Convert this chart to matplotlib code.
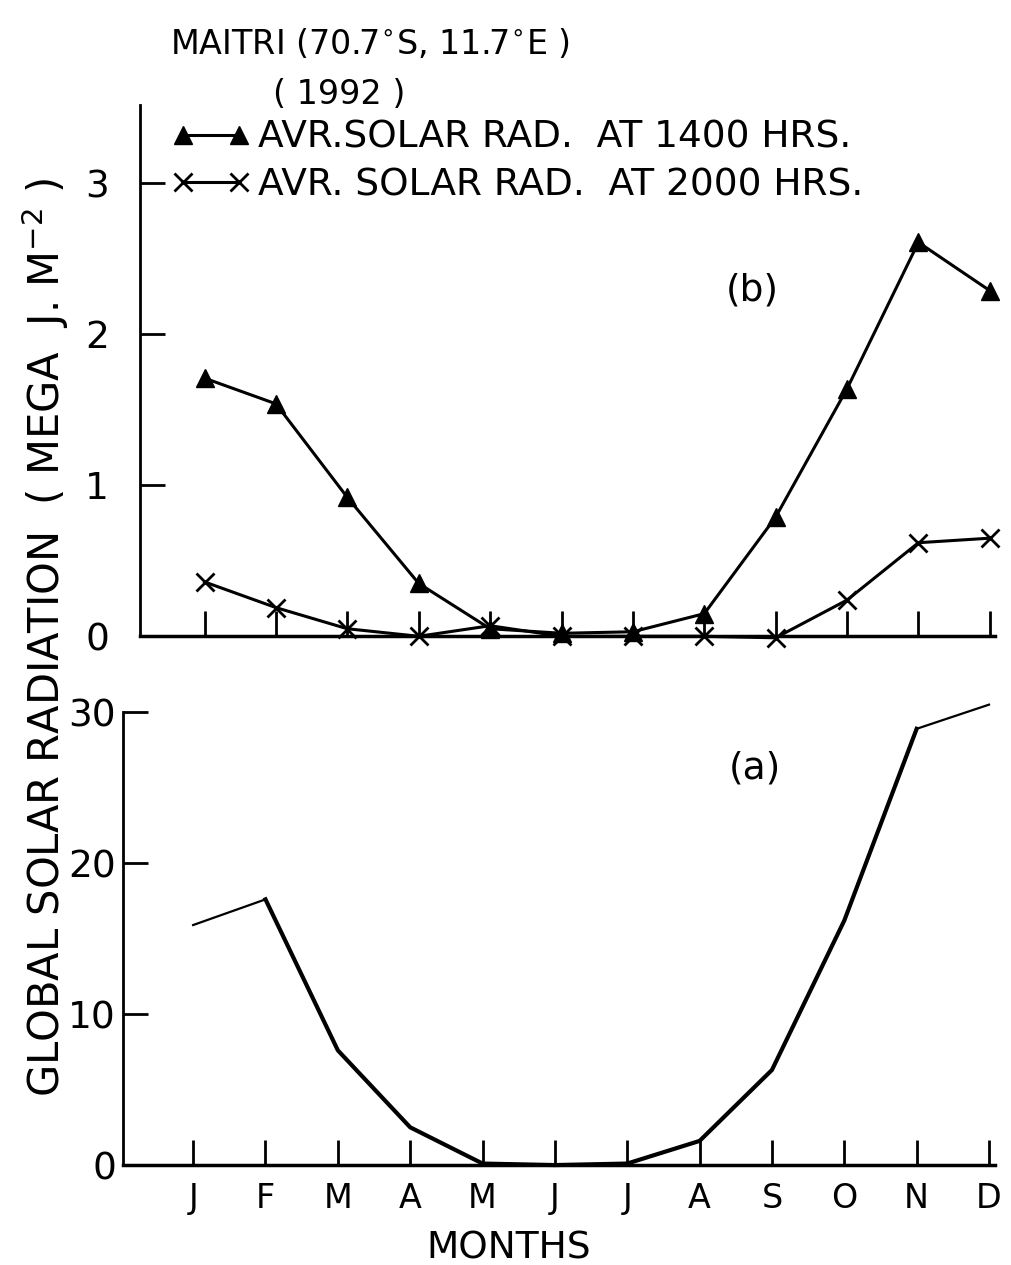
import numpy as np
import matplotlib.pyplot as plt

# mesi e valori
mesi = ['J', 'F', 'M', 'A', 'M', 'J', 'J', 'A', 'S', 'O', 'N', 'D']
rad_1400 = [1.71, 1.54, 0.92, 0.35, 0.05, 0.02, 0.03, 0.15, 0.79, 1.64, 2.61, 2.29]
rad_2000 = [0.36, 0.19, 0.05, 0.0, 0.07, 0.0, 0.0, 0.0, -0.01, 0.24, 0.62, 0.65]
globale = [15.9, 17.6, 7.6, 2.5, 0.1, 0.0, 0.1, 1.6, 6.3, 16.2, 28.9, 30.5]

x = np.arange(1, 13)
plt.rcParams['font.family'] = 'DejaVu Sans'

fig = plt.figure(figsize=(10.12, 12.65), dpi=100)

# pannello (b) in alto
ax_b = fig.add_axes([0.138, 0.497, 0.845, 0.42])
ax_b.plot(x, rad_1400, color='k', lw=2.2, marker='^', ms=13, mfc='k',
          clip_on=False, label='AVR.SOLAR RAD.  AT 1400 HRS.')
ax_b.plot(x, rad_2000, color='k', lw=2.2, marker='x', ms=13, mew=2,
          clip_on=False, label='AVR. SOLAR RAD.  AT 2000 HRS.')
ax_b.set_xlim(0.09, 12.07)
ax_b.set_ylim(0, 3.52)
ax_b.set_xticks(x)
ax_b.set_xticklabels([])
ax_b.set_yticks([0, 1, 2, 3])
ax_b.tick_params(axis='y', direction='in', length=18, width=2, labelsize=27, pad=22)
ax_b.tick_params(axis='x', direction='in', length=18, width=2)
ax_b.text(0.685, 0.65, '(b)', transform=ax_b.transAxes, fontsize=27, va='center')

leg = ax_b.legend(loc='upper left', bbox_to_anchor=(172 / 1012, 1 - 120 / 1265),
                  bbox_transform=fig.transFigure, frameon=False,
                  numpoints=2, handlelength=2.1, handletextpad=0.2,
                  fontsize=27, labelspacing=0.3, borderaxespad=0, borderpad=0)

# pannello (a) in basso
ax_a = fig.add_axes([0.1215, 0.079, 0.8615, 0.358])
ax_a.plot(x[:2], globale[:2], color='k', lw=1.6, clip_on=False)
ax_a.plot(x[1:11], globale[1:11], color='k', lw=3, clip_on=False,
          solid_joinstyle='round')
ax_a.plot(x[10:], globale[10:], color='k', lw=1.6, clip_on=False)
ax_a.set_xlim(0.03, 12.08)
ax_a.set_ylim(0, 30)
ax_a.set_xticks(x)
ax_a.set_xticklabels(mesi)
ax_a.set_yticks([0, 10, 20, 30])
ax_a.tick_params(axis='y', direction='in', length=18, width=2, labelsize=27, pad=5)
ax_a.tick_params(axis='x', direction='in', length=18, width=2, labelsize=24, pad=12)
ax_a.text(0.695, 0.876, '(a)', transform=ax_a.transAxes, fontsize=27, va='center')
ax_a.set_xlabel('MONTHS', fontsize=27)
ax_a.xaxis.set_label_coords(0.443, -0.145)

for ax in (ax_a, ax_b):
    for s in ('top', 'right'):
        ax.spines[s].set_visible(False)
    ax.spines['left'].set_linewidth(2)
    ax.spines['bottom'].set_linewidth(2.5)

fig.text(0.045, 0.496, 'GLOBAL SOLAR RADIATION  ( MEGA  J. M$^{-2}$ )',
         rotation=90, ha='center', va='center', fontsize=30)
fig.text(0.168, 0.965, 'MAITRI (70.7$^{\\circ}$S, 11.7$^{\\circ}$E )',
         fontsize=24, va='center')
fig.text(0.27, 0.925, '( 1992 )', fontsize=24, va='center')

fig.savefig('out.png', dpi=100)
